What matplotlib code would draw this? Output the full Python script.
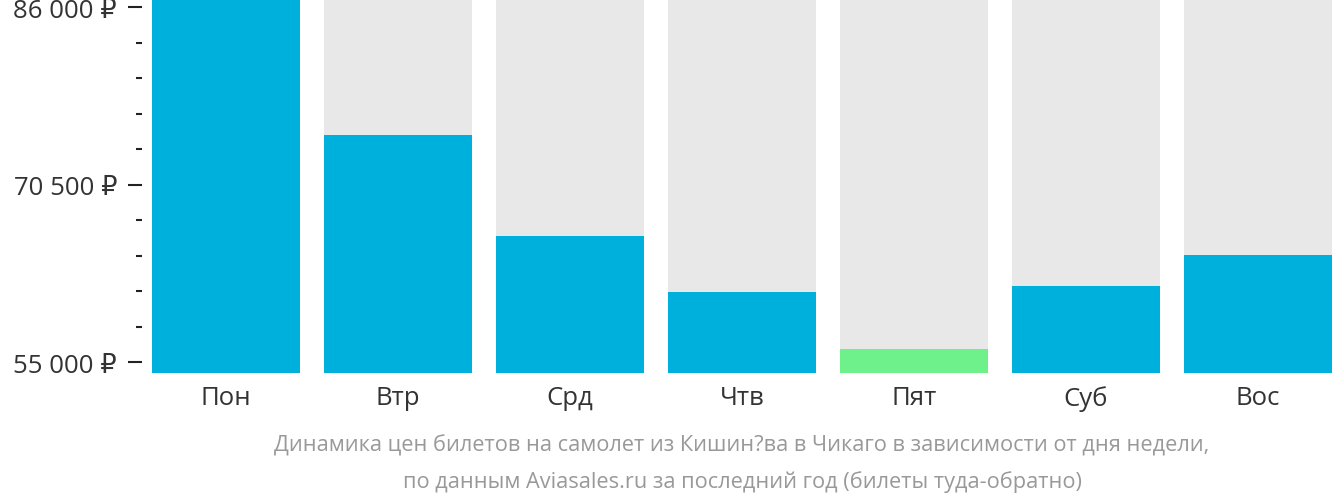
import matplotlib.pyplot as plt
from matplotlib.ticker import FixedLocator

plt.rcParams['font.family'] = ['Open Sans', 'DejaVu Sans']

days = ['Пон', 'Втр', 'Срд', 'Чтв', 'Пят', 'Суб', 'Вос']
prices = [88000, 74820, 66000, 61110, 56140, 61640, 64340]
cheapest = 'Пят'

major_ticks = [55000, 70500, 86000]
major_labels = ['55 000 ₽', '70 500 ₽', '86 000 ₽']
minor_ticks = [58100, 61200, 64300, 67400, 73600, 76700, 79800, 82900]

y_bottom, y_top = 54040, 86725

fig = plt.figure(figsize=(13.32, 5.02), dpi=100)
ax = fig.add_axes([152 / 1332, (502 - 374) / 502, 1 - 152 / 1332, 374 / 502])

x = range(len(days))
colors = ['#6ef08a' if d == cheapest else '#00b0dc' for d in days]
ax.bar(x, [y_top - y_bottom] * len(days), bottom=y_bottom, width=0.86, color='#e8e8e8')
ax.bar(x, [p - y_bottom for p in prices], bottom=y_bottom, width=0.86, color=colors)

ax.set_xlim(-0.43, len(days) - 0.57)
ax.set_ylim(y_bottom, y_top)

for s in ax.spines.values():
    s.set_visible(False)
ax.spines['left'].set_position(('outward', 7.2))

ax.set_yticks(major_ticks)
ax.set_yticklabels(major_labels)
ax.yaxis.set_minor_locator(FixedLocator(minor_ticks))
ax.tick_params(axis='y', which='major', length=10, width=1.5, color='#222222',
               labelsize=18.5, labelcolor='#333333', pad=8)
ax.tick_params(axis='y', which='minor', length=4.3, width=1.5, color='#222222')

ax.set_xticks(list(x))
ax.set_xticklabels(days)
ax.tick_params(axis='x', length=0, labelsize=18.5, labelcolor='#333333', pad=8.5)

cx = (152 + 1332) / 2 / 1332
fig.text(cx, 1 - 446 / 502, 'Динамика цен билетов на самолет из Кишин?ва в Чикаго в зависимости от дня недели,',
         ha='center', va='center', fontsize=15.7, color='#999999')
fig.text(cx, 1 - 482 / 502, 'по данным Aviasales.ru за последний год (билеты туда-обратно)',
         ha='center', va='center', fontsize=15.7, color='#999999')

fig.savefig('out.png', dpi=100)
